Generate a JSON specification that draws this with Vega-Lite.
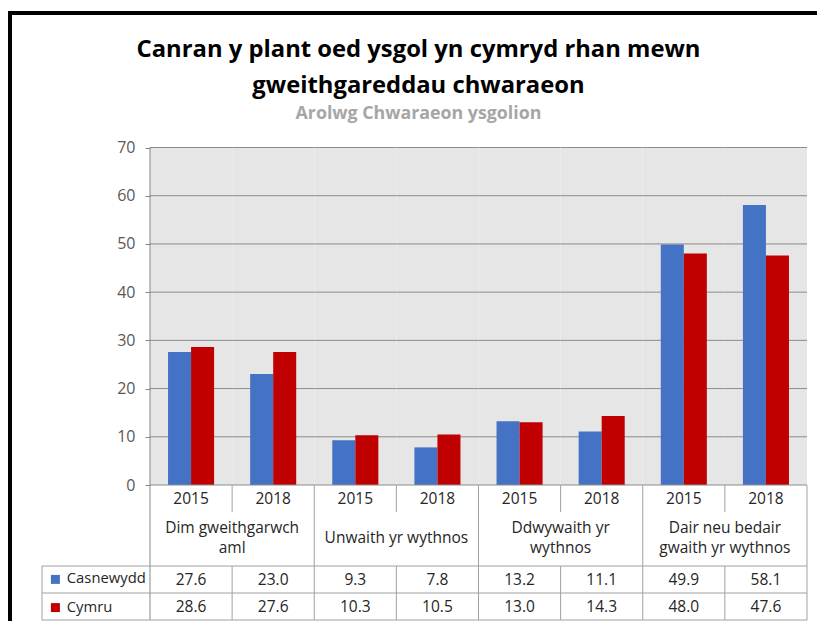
{
  "$schema": "https://vega.github.io/schema/vega-lite/v6.json",
  "width": 807,
  "height": 608,
  "autosize": {"type": "none"},
  "padding": {"left": 10, "top": 13, "right": 0, "bottom": 0},
  "background": "white",
  "config": {
    "view": {"stroke": "black", "strokeWidth": 4, "strokeDash": [807, 1415, 608]},
    "font": "Open Sans"
  },
  "title": {
    "text": ["Canran y plant oed ysgol yn cymryd rhan mewn", "gweithgareddau chwaraeon"],
    "subtitle": "Arolwg Chwaraeon ysgolion",
    "anchor": "middle",
    "frame": "group",
    "font": "Open Sans",
    "fontSize": 23.8,
    "fontWeight": "bold",
    "color": "#000000",
    "lineHeight": 36,
    "subtitleFont": "Open Sans",
    "subtitleFontSize": 17.8,
    "subtitleFontWeight": "bold",
    "subtitleColor": "#a6a6a6",
    "subtitlePadding": 7,
    "offset": -110,
    "dx": 5
  },
  "data": {
    "values": [
      {"cat": ["Dim gweithgarwch", "aml"], "year": "2015", "col": "Dim gweithgarwch aml 2015", "series": "Casnewydd", "value": 27.6},
      {"cat": ["Dim gweithgarwch", "aml"], "year": "2018", "col": "Dim gweithgarwch aml 2018", "series": "Casnewydd", "value": 23.0},
      {"cat": "Unwaith yr wythnos", "year": "2015", "col": "Unwaith yr wythnos 2015", "series": "Casnewydd", "value": 9.3},
      {"cat": "Unwaith yr wythnos", "year": "2018", "col": "Unwaith yr wythnos 2018", "series": "Casnewydd", "value": 7.8},
      {"cat": ["Ddwywaith yr", "wythnos"], "year": "2015", "col": "Ddwywaith yr wythnos 2015", "series": "Casnewydd", "value": 13.2},
      {"cat": ["Ddwywaith yr", "wythnos"], "year": "2018", "col": "Ddwywaith yr wythnos 2018", "series": "Casnewydd", "value": 11.1},
      {"cat": ["Dair neu bedair", "gwaith yr wythnos"], "year": "2015", "col": "Dair neu bedair gwaith yr wythnos 2015", "series": "Casnewydd", "value": 49.9},
      {"cat": ["Dair neu bedair", "gwaith yr wythnos"], "year": "2018", "col": "Dair neu bedair gwaith yr wythnos 2018", "series": "Casnewydd", "value": 58.1},
      {"cat": ["Dim gweithgarwch", "aml"], "year": "2015", "col": "Dim gweithgarwch aml 2015", "series": "Cymru", "value": 28.6},
      {"cat": ["Dim gweithgarwch", "aml"], "year": "2018", "col": "Dim gweithgarwch aml 2018", "series": "Cymru", "value": 27.6},
      {"cat": "Unwaith yr wythnos", "year": "2015", "col": "Unwaith yr wythnos 2015", "series": "Cymru", "value": 10.3},
      {"cat": "Unwaith yr wythnos", "year": "2018", "col": "Unwaith yr wythnos 2018", "series": "Cymru", "value": 10.5},
      {"cat": ["Ddwywaith yr", "wythnos"], "year": "2015", "col": "Ddwywaith yr wythnos 2015", "series": "Cymru", "value": 13.0},
      {"cat": ["Ddwywaith yr", "wythnos"], "year": "2018", "col": "Ddwywaith yr wythnos 2018", "series": "Cymru", "value": 14.3},
      {"cat": ["Dair neu bedair", "gwaith yr wythnos"], "year": "2015", "col": "Dair neu bedair gwaith yr wythnos 2015", "series": "Cymru", "value": 48.0},
      {"cat": ["Dair neu bedair", "gwaith yr wythnos"], "year": "2018", "col": "Dair neu bedair gwaith yr wythnos 2018", "series": "Cymru", "value": 47.6}
    ]
  },
  "resolve": {"scale": {"x": "independent", "y": "independent"}},
  "layer": [
    {
      "resolve": {"scale": {"y": "independent"}},
      "layer": [
        {
          "layer": [
            {
              "transform": [{"filter": "datum.series == 'Casnewydd'"}],
              "mark": {"type": "rect", "color": "#e6e6e6"},
              "encoding": {
                "x": {"field": "col", "type": "nominal", "axis": null,
                  "scale": {"type": "band", "domain": ["Dim gweithgarwch aml 2015", "Dim gweithgarwch aml 2018", "Unwaith yr wythnos 2015", "Unwaith yr wythnos 2018", "Ddwywaith yr wythnos 2015", "Ddwywaith yr wythnos 2018", "Dair neu bedair gwaith yr wythnos 2015", "Dair neu bedair gwaith yr wythnos 2018"], "paddingInner": 0, "paddingOuter": 0.91324, "align": 0.93333}},
                "y": {"datum": 0, "type": "quantitative", "scale": {"domain": [-28.207, 97.897], "nice": false, "zero": false}},
                "y2": {"datum": 70}
              }
            },
            {"transform": [{"filter": "datum.series == 'Casnewydd'"}], "mark": {"type": "rule", "color": "#8c8c8c", "strokeWidth": 1},
             "encoding": {"x": {"field": "col", "type": "nominal", "bandPosition": 0, "axis": null}, "x2": {"field": "col", "bandPosition": 1}, "y": {"datum": 10, "type": "quantitative"}}},
            {"transform": [{"filter": "datum.series == 'Casnewydd'"}], "mark": {"type": "rule", "color": "#8c8c8c", "strokeWidth": 1},
             "encoding": {"x": {"field": "col", "type": "nominal", "bandPosition": 0, "axis": null}, "x2": {"field": "col", "bandPosition": 1}, "y": {"datum": 20, "type": "quantitative"}}},
            {"transform": [{"filter": "datum.series == 'Casnewydd'"}], "mark": {"type": "rule", "color": "#8c8c8c", "strokeWidth": 1},
             "encoding": {"x": {"field": "col", "type": "nominal", "bandPosition": 0, "axis": null}, "x2": {"field": "col", "bandPosition": 1}, "y": {"datum": 30, "type": "quantitative"}}},
            {"transform": [{"filter": "datum.series == 'Casnewydd'"}], "mark": {"type": "rule", "color": "#8c8c8c", "strokeWidth": 1},
             "encoding": {"x": {"field": "col", "type": "nominal", "bandPosition": 0, "axis": null}, "x2": {"field": "col", "bandPosition": 1}, "y": {"datum": 40, "type": "quantitative"}}},
            {"transform": [{"filter": "datum.series == 'Casnewydd'"}], "mark": {"type": "rule", "color": "#8c8c8c", "strokeWidth": 1},
             "encoding": {"x": {"field": "col", "type": "nominal", "bandPosition": 0, "axis": null}, "x2": {"field": "col", "bandPosition": 1}, "y": {"datum": 50, "type": "quantitative"}}},
            {"transform": [{"filter": "datum.series == 'Casnewydd'"}], "mark": {"type": "rule", "color": "#8c8c8c", "strokeWidth": 1},
             "encoding": {"x": {"field": "col", "type": "nominal", "bandPosition": 0, "axis": null}, "x2": {"field": "col", "bandPosition": 1}, "y": {"datum": 60, "type": "quantitative"}}},
            {"transform": [{"filter": "datum.series == 'Casnewydd'"}], "mark": {"type": "rule", "color": "#8c8c8c", "strokeWidth": 1},
             "encoding": {"x": {"field": "col", "type": "nominal", "bandPosition": 0, "axis": null}, "x2": {"field": "col", "bandPosition": 1}, "y": {"datum": 70, "type": "quantitative"}}},
            {
              "mark": {"type": "bar"},
              "encoding": {
                "x": {"field": "col", "type": "nominal", "axis": null},
                "xOffset": {"field": "series", "type": "nominal", "scale": {"type": "band", "domain": ["Casnewydd", "Cymru"], "paddingInner": 0, "paddingOuter": 0.783}},
                "y": {"field": "value", "type": "quantitative",
                  "axis": {"values": [0, 10, 20, 30, 40, 50, 60, 70], "offset": -140, "domain": false, "grid": false, "ticks": true, "tickSize": 5, "tickColor": "#868686", "labelFont": "Open Sans", "labelFontSize": 16, "labelColor": "#595959", "labelPadding": 10, "title": null, "zindex": 1}},
                "color": {"field": "series", "type": "nominal",
                  "scale": {"domain": ["Casnewydd", "Cymru"], "range": ["#4472c4", "#c00000"]},
                  "legend": {"orient": "none", "legendX": 38, "legendY": 559, "title": null, "symbolType": "square", "symbolSize": 81, "symbolStrokeWidth": 0, "labelFont": "Open Sans", "labelFontSize": 14.8, "labelColor": "#262626", "rowPadding": 12.2, "labelOffset": 4, "padding": 0}}
              }
            },
            {"transform": [{"filter": "datum.col == 'Dim gweithgarwch aml 2015' && datum.series == 'Casnewydd'"}], "mark": {"type": "rule", "color": "#868686", "strokeWidth": 1},
             "encoding": {"x": {"field": "col", "type": "nominal", "bandPosition": 0, "axis": null}, "y": {"datum": 70, "type": "quantitative"}, "y2": {"datum": 0}}},
            {"transform": [{"filter": "datum.series == 'Casnewydd'"}], "mark": {"type": "rule", "color": "#8c8c8c", "strokeWidth": 1},
             "encoding": {"x": {"field": "col", "type": "nominal", "bandPosition": 0, "axis": null}, "x2": {"field": "col", "bandPosition": 1}, "y": {"datum": 0, "type": "quantitative"}}}
          ]
        },
        {
          "layer": [
            {"transform": [{"filter": "datum.series == 'Casnewydd'"}], "mark": {"type": "rule", "color": "#a0a0a0", "strokeWidth": 1},
             "encoding": {"x": {"field": "col", "type": "nominal", "bandPosition": 1, "axis": null},
               "y": {"datum": "year", "type": "nominal", "bandPosition": 0, "axis": null,
                 "scale": {"type": "band", "domain": ["year", "cat1", "cat2", "Casnewydd", "Cymru"], "paddingInner": 0, "paddingOuter": 0, "range": [472, 607]}},
               "y2": {"datum": "year", "bandPosition": 1}}},
            {"transform": [{"filter": "datum.series == 'Casnewydd'"}], "mark": {"type": "rule", "color": "#a0a0a0", "strokeWidth": 1},
             "encoding": {"x": {"field": "col", "type": "nominal", "bandPosition": 1, "axis": null},
               "y": {"datum": "Casnewydd", "type": "nominal", "bandPosition": 0, "axis": null},
               "y2": {"datum": "Cymru", "bandPosition": 1}}},
            {"transform": [{"filter": "datum.series == 'Casnewydd' && datum.year == '2018'"}], "mark": {"type": "rule", "color": "#a0a0a0", "strokeWidth": 1},
             "encoding": {"x": {"field": "col", "type": "nominal", "bandPosition": 1, "axis": null},
               "y": {"datum": "cat1", "type": "nominal", "bandPosition": 0, "axis": null},
               "y2": {"datum": "cat2", "bandPosition": 1}}},
            {"transform": [{"filter": "datum.col == 'Dim gweithgarwch aml 2015' && datum.series == 'Casnewydd'"}], "mark": {"type": "rule", "color": "#868686", "strokeWidth": 1},
             "encoding": {"x": {"field": "col", "type": "nominal", "bandPosition": 0, "axis": null},
               "y": {"datum": "year", "type": "nominal", "bandPosition": 0, "axis": null},
               "y2": {"datum": "Cymru", "bandPosition": 1}}},
            {"transform": [{"filter": "datum.series == 'Casnewydd'"}], "mark": {"type": "rule", "color": "#a0a0a0", "strokeWidth": 1},
             "encoding": {"x": {"field": "col", "type": "nominal", "bandPosition": 0, "axis": null}, "x2": {"field": "col", "bandPosition": 1},
               "y": {"datum": "Casnewydd", "type": "nominal", "bandPosition": 0, "axis": null}}},
            {"transform": [{"filter": "datum.series == 'Casnewydd'"}], "mark": {"type": "rule", "color": "#a0a0a0", "strokeWidth": 1},
             "encoding": {"x": {"field": "col", "type": "nominal", "bandPosition": 0, "axis": null}, "x2": {"field": "col", "bandPosition": 1},
               "y": {"datum": "Cymru", "type": "nominal", "bandPosition": 0, "axis": null}}},
            {"transform": [{"filter": "datum.series == 'Casnewydd'"}], "mark": {"type": "rule", "color": "#a0a0a0", "strokeWidth": 1},
             "encoding": {"x": {"field": "col", "type": "nominal", "bandPosition": 0, "axis": null}, "x2": {"field": "col", "bandPosition": 1},
               "y": {"datum": "Cymru", "type": "nominal", "bandPosition": 1, "axis": null}}},
            {"transform": [{"filter": "datum.series == 'Casnewydd'"}],
             "mark": {"type": "text", "font": "Open Sans", "fontSize": 15.5, "color": "#262626", "baseline": "middle", "align": "center"},
             "encoding": {"x": {"field": "col", "type": "nominal", "axis": null}, "y": {"datum": "year", "type": "nominal", "axis": null}, "text": {"field": "year", "type": "nominal"}}},
            {"transform": [{"filter": "datum.series == 'Casnewydd' && datum.year == '2015' && isArray(datum.cat)"}],
             "mark": {"type": "text", "font": "Open Sans", "fontSize": 15.5, "color": "#262626", "baseline": "middle", "align": "center", "lineHeight": 20},
             "encoding": {"x": {"field": "col", "type": "nominal", "bandPosition": 1, "axis": null}, "y": {"datum": "cat1", "type": "nominal", "bandPosition": 0.6, "axis": null}, "text": {"field": "cat", "type": "nominal"}}},
            {"transform": [{"filter": "datum.series == 'Casnewydd' && datum.year == '2015' && !isArray(datum.cat)"}],
             "mark": {"type": "text", "font": "Open Sans", "fontSize": 15.5, "color": "#262626", "baseline": "middle", "align": "center"},
             "encoding": {"x": {"field": "col", "type": "nominal", "bandPosition": 1, "axis": null}, "y": {"datum": "cat1", "type": "nominal", "bandPosition": 0.98, "axis": null}, "text": {"field": "cat", "type": "nominal"}}},
            {"mark": {"type": "text", "font": "Open Sans", "fontSize": 15.5, "color": "#262626", "baseline": "middle", "align": "center"},
             "encoding": {"x": {"field": "col", "type": "nominal", "axis": null}, "y": {"field": "series", "type": "nominal", "axis": null}, "text": {"field": "value", "type": "quantitative", "format": ".1f"}}}
          ]
        }
      ]
    },
    {
      "transform": [{"filter": "datum.col == 'Dim gweithgarwch aml 2015' && datum.series == 'Casnewydd'"}],
      "layer": [
        {"mark": {"type": "rule", "color": "#a0a0a0", "strokeWidth": 1},
         "encoding": {"x": {"datum": "legend", "type": "nominal", "bandPosition": 0, "axis": null,
             "scale": {"type": "band", "domain": ["legend"], "paddingInner": 0, "paddingOuter": 0, "range": [32, 140]}},
           "x2": {"datum": "legend", "bandPosition": 1},
           "y": {"datum": "Casnewydd", "type": "nominal", "bandPosition": 0, "axis": null,
             "scale": {"type": "band", "domain": ["year", "cat1", "cat2", "Casnewydd", "Cymru"], "paddingInner": 0, "paddingOuter": 0, "range": [472, 607]}}}},
        {"mark": {"type": "rule", "color": "#a0a0a0", "strokeWidth": 1},
         "encoding": {"x": {"datum": "legend", "type": "nominal", "bandPosition": 0, "axis": null}, "x2": {"datum": "legend", "bandPosition": 1},
           "y": {"datum": "Cymru", "type": "nominal", "bandPosition": 0, "axis": null}}},
        {"mark": {"type": "rule", "color": "#a0a0a0", "strokeWidth": 1},
         "encoding": {"x": {"datum": "legend", "type": "nominal", "bandPosition": 0, "axis": null}, "x2": {"datum": "legend", "bandPosition": 1},
           "y": {"datum": "Cymru", "type": "nominal", "bandPosition": 1, "axis": null}}},
        {"mark": {"type": "rule", "color": "#a0a0a0", "strokeWidth": 1},
         "encoding": {"x": {"datum": "legend", "type": "nominal", "bandPosition": 0, "axis": null},
           "y": {"datum": "Casnewydd", "type": "nominal", "bandPosition": 0, "axis": null}, "y2": {"datum": "Cymru", "bandPosition": 1}}}
      ]
    }
  ]
}
